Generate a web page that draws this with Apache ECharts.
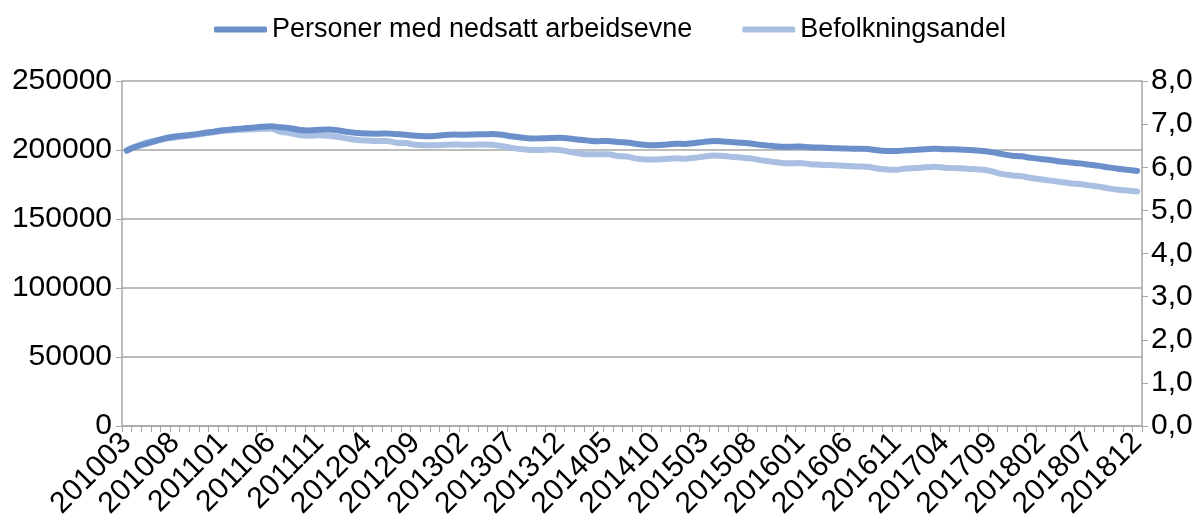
<!DOCTYPE html>
<html>
<head>
<meta charset="utf-8">
<script src="https://cdn.jsdelivr.net/npm/echarts@6/dist/echarts.min.js"></script>
<style>
  html, body { margin: 0; padding: 0; background: #fff; }
  #main { width: 1203px; height: 518px; }
</style>
</head>
<body>
<div id="main"></div>
<script>
// months 201003 - 201812
var months = [];
for (var y = 2010; y <= 2018; y++) {
    for (var m = 1; m <= 12; m++) {
        if (y == 2010 && m < 3) continue;
        months.push('' + y + (m < 10 ? '0' + m : m));
    }
}

// Personer med nedsatt arbeidsevne (left axis)
var personer = [
    199500, 202500, 204500, 206500, 208500, 209800, 210500, 211200, 212300, 213300,
    214300, 215000, 215600, 216200, 216800, 217200, 216500, 215800, 214500, 214200,
    214600, 214900, 214200, 213000, 212300, 212000, 211800, 212000, 211500, 211000,
    210300, 210000, 210200, 210800, 211200, 211000, 211300, 211400, 211600, 211000,
    209900, 209000, 208400, 208500, 208700, 208900, 208300, 207500, 206800, 206400,
    206600, 205800, 205500, 204300, 203600, 203400, 203900, 204500, 204400, 205100,
    205900, 206600, 206200, 205600, 205200, 204600, 203600, 203000, 202400, 202300,
    202600, 202000, 201800, 201500, 201200, 201000, 200900, 200700, 199800, 199300,
    199200, 199800, 200200, 200600, 200900, 200600, 200500, 200200, 199800, 199300,
    198300, 197000, 195900, 195400, 194300, 193500, 192700, 191700, 191000, 190300,
    189400, 188500, 187400, 186400, 185600, 184800
];

// Befolkningsandel (right axis, %)
var andel = [
    6.40, 6.49, 6.57, 6.62, 6.66, 6.69, 6.72, 6.75, 6.78, 6.81,
    6.84, 6.86, 6.87, 6.88, 6.89, 6.89, 6.82, 6.79, 6.74, 6.73,
    6.74, 6.73, 6.70, 6.66, 6.63, 6.62, 6.61, 6.61, 6.57, 6.56,
    6.52, 6.51, 6.51, 6.52, 6.53, 6.52, 6.52, 6.53, 6.52, 6.49,
    6.45, 6.42, 6.40, 6.40, 6.41, 6.40, 6.36, 6.32, 6.30, 6.30,
    6.30, 6.26, 6.25, 6.20, 6.18, 6.18, 6.19, 6.21, 6.20, 6.22,
    6.25, 6.27, 6.26, 6.24, 6.22, 6.20, 6.16, 6.13, 6.10, 6.09,
    6.10, 6.07, 6.06, 6.05, 6.04, 6.03, 6.02, 6.01, 5.97, 5.95,
    5.94, 5.97, 5.98, 6.00, 6.01, 5.99, 5.98, 5.97, 5.96, 5.94,
    5.90, 5.84, 5.81, 5.79, 5.75, 5.72, 5.69, 5.66, 5.63, 5.61,
    5.58, 5.55, 5.51, 5.48, 5.46, 5.44
];

var leftTicks = [0, 50000, 100000, 150000, 200000, 250000];
var rightTicks = [0, 1, 2, 3, 4, 5, 6, 7, 8];

var darkBlue = '#6a8fcb';
var lightBlue = '#a9c0e2';
var axisGray = '#a6a6a6';
var fontName = 'Liberation Sans';

var myChart = echarts.init(document.getElementById('main'));

var option = {
    animation: false,
    textStyle: { fontFamily: fontName },
    legend: {
        top: 11,
        left: 209,
        itemGap: 50,
        itemWidth: 53,
        itemHeight: 6,
        icon: 'roundRect',
        textStyle: { fontSize: 27, color: '#000', fontFamily: fontName },
        data: ['Personer med nedsatt arbeidsevne', 'Befolkningsandel']
    },
    grid: {
        left: 122,
        right: 61,
        top: 81,
        bottom: 92,
        containLabel: false,
        outerBoundsMode: 'none'
    },
    xAxis: {
        type: 'category',
        boundaryGap: true,
        data: months,
        axisLine: { lineStyle: { color: axisGray, width: 1.5 } },
        axisTick: { show: true, interval: 0, length: 6, lineStyle: { color: axisGray } },
        axisLabel: {
            interval: 4,
            rotate: 45,
            fontSize: 30,
            color: '#000',
            margin: 12
        },
        splitLine: { show: false }
    },
    yAxis: [
        {
            type: 'value',
            min: leftTicks[0],
            max: leftTicks[leftTicks.length - 1],
            interval: 50000,
            axisLine: { show: true, lineStyle: { color: axisGray, width: 1.5 } },
            axisTick: { show: true, length: 6, lineStyle: { color: axisGray } },
            axisLabel: {
                fontSize: 30,
                color: '#000',
                margin: 10,
                formatter: function (v) { return '' + v; }
            },
            splitLine: { show: true, lineStyle: { color: axisGray, width: 1.5 } }
        },
        {
            type: 'value',
            min: rightTicks[0],
            max: rightTicks[rightTicks.length - 1],
            interval: 1,
            position: 'right',
            axisLine: { show: true, lineStyle: { color: axisGray, width: 1.5 } },
            axisTick: { show: true, length: 6, lineStyle: { color: axisGray } },
            axisLabel: {
                fontSize: 30,
                color: '#000',
                margin: 9,
                formatter: function (v) { return v.toFixed(1).replace('.', ','); }
            },
            splitLine: { show: false }
        }
    ],
    series: [
        {
            name: 'Personer med nedsatt arbeidsevne',
            type: 'line',
            yAxisIndex: 0,
            data: personer,
            showSymbol: false,
            smooth: 0.3,
            color: darkBlue,
            lineStyle: { width: 6, color: darkBlue, cap: 'round' },
            z: 3
        },
        {
            name: 'Befolkningsandel',
            type: 'line',
            yAxisIndex: 1,
            data: andel,
            showSymbol: false,
            smooth: 0.3,
            color: lightBlue,
            lineStyle: { width: 6, color: lightBlue, cap: 'round' },
            z: 2
        }
    ]
};

myChart.setOption(option);
</script>
</body>
</html>
